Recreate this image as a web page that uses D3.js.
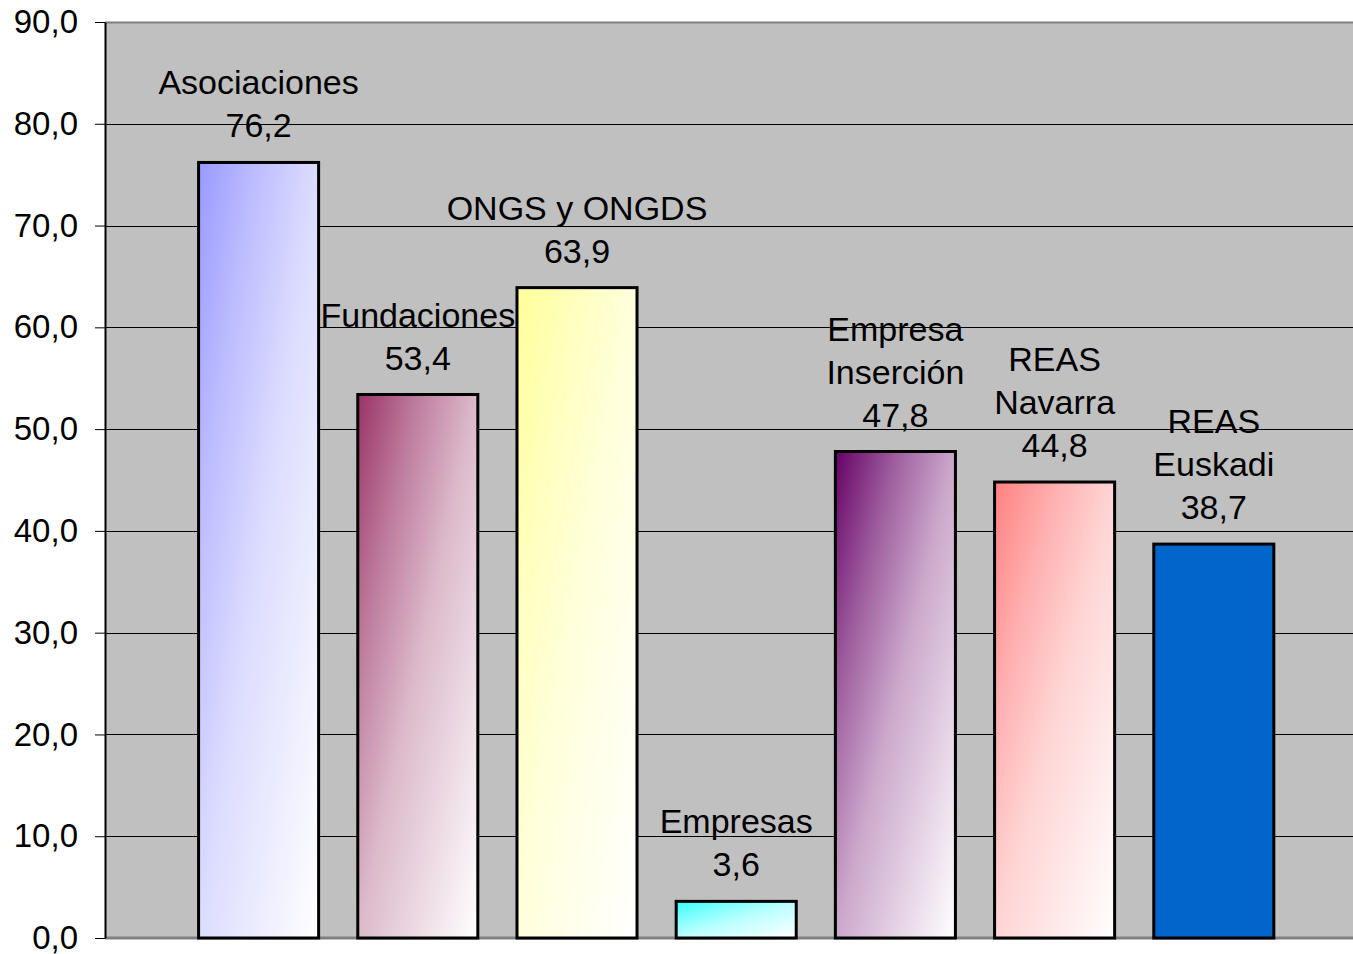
<!DOCTYPE html>
<html>
<head>
<meta charset="utf-8">
<script src="https://cdn.jsdelivr.net/npm/d3@7/dist/d3.min.js"></script>
<style>
  html, body { margin: 0; padding: 0; background: #ffffff; }
  svg { display: block; }
  text { font-family: "Liberation Sans", Arial, sans-serif; fill: #000; }
</style>
</head>
<body>
<svg id="chart" width="1353" height="954"></svg>
<script>
// Entity types and their values
const categories = ["Asociaciones", "Fundaciones", "ONGS y ONGDS", "Empresas", "Empresa Inserción", "REAS Navarra", "REAS Euskadi"];
const labelLines = [["Asociaciones"], ["Fundaciones"], ["ONGS y ONGDS"], ["Empresas"], ["Empresa", "Inserción"], ["REAS", "Navarra"], ["REAS", "Euskadi"]];
const values = [76.2, 53.4, 63.9, 3.6, 47.8, 44.8, 38.7];
const yTicks = [0, 10, 20, 30, 40, 50, 60, 70, 80, 90];
// Fill colour per bar (start of a fade to white; last bar is solid)
const barColors = ["#9999ff", "#993366", "#ffff99", "#33ffff", "#660066", "#ff8080", "#0066cc"];
const barFade = [true, true, true, true, true, true, false];

const svg = d3.select("#chart");
const plot = { left: 105, top: 22, right: 1362, bottom: 938 };

const locale = d3.formatLocale({ decimal: ",", thousands: ".", grouping: [3], currency: ["", "€"] });
const fmt = locale.format(".1f");

const y = d3.scaleLinear().domain([0, 90]).range([plot.bottom, plot.top]);
const x = d3.scaleBand()
  .domain(categories)
  .range([179, 179 + 7 * 159.2])
  .paddingInner(0.246)
  .paddingOuter(0.123);

// Gradients: colour at top-left fading to white at bottom-right
const defs = svg.append("defs");
categories.forEach((c, i) => {
  const g = defs.append("linearGradient")
    .attr("id", "grad" + i)
    .attr("x1", 0).attr("y1", 0).attr("x2", 1).attr("y2", 1);
  if (barFade[i]) {
    const toWhite = d3.interpolateRgb(barColors[i], "#ffffff");
    g.append("stop").attr("offset", 0).attr("stop-color", barColors[i]);
    g.append("stop").attr("offset", 0.25).attr("stop-color", toWhite(0.36));
    g.append("stop").attr("offset", 0.5).attr("stop-color", toWhite(0.66));
    g.append("stop").attr("offset", 1).attr("stop-color", "#ffffff");
  } else {
    g.append("stop").attr("offset", 0).attr("stop-color", barColors[i]);
    g.append("stop").attr("offset", 1).attr("stop-color", barColors[i]);
  }
});

// Plot area background
svg.append("rect")
  .attr("x", plot.left).attr("y", plot.top)
  .attr("width", plot.right - plot.left).attr("height", plot.bottom - plot.top)
  .attr("fill", "#c0c0c0");

// Horizontal gridlines
svg.append("g")
  .selectAll("line")
  .data(yTicks.filter(t => t > 0 && t < 90))
  .join("line")
  .attr("x1", plot.left).attr("x2", plot.right)
  .attr("y1", d => Math.round(y(d)) + 0.5).attr("y2", d => Math.round(y(d)) + 0.5)
  .attr("stroke", "#000").attr("stroke-width", 1);

// Plot area top and bottom borders
svg.append("line")
  .attr("x1", plot.left).attr("x2", plot.right)
  .attr("y1", plot.top + 0.5).attr("y2", plot.top + 0.5)
  .attr("stroke", "#808080").attr("stroke-width", 2);
svg.append("line")
  .attr("x1", plot.left).attr("x2", plot.right)
  .attr("y1", plot.bottom).attr("y2", plot.bottom)
  .attr("stroke", "#808080").attr("stroke-width", 3);

// Bars
svg.append("g")
  .selectAll("rect")
  .data(values)
  .join("rect")
  .attr("x", (d, i) => x(categories[i]))
  .attr("y", d => y(d))
  .attr("width", x.bandwidth())
  .attr("height", d => y(0) - y(d))
  .attr("fill", (d, i) => `url(#grad${i})`)
  .attr("stroke", "#000")
  .attr("stroke-width", 3);

// Y axis
const yAxis = d3.axisLeft(y)
  .tickValues(yTicks)
  .tickFormat(d => fmt(d))
  .tickSizeOuter(0)
  .tickSizeInner(10)
  .tickPadding(17);
const ya = svg.append("g")
  .attr("transform", `translate(${plot.left},0)`)
  .call(yAxis);
ya.select(".domain").attr("stroke", "#000").attr("stroke-width", 2);
ya.selectAll(".tick line").attr("stroke", "#000").attr("stroke-width", 1);
ya.selectAll(".tick text")
  .attr("font-size", 33)
  .attr("font-family", "'Liberation Sans', Arial, sans-serif")
  .attr("fill", "#000");

// Data labels: category name lines above the value
const lineH = 43;
const labels = svg.append("g")
  .selectAll("text")
  .data(values)
  .join("text")
  .attr("text-anchor", "middle")
  .attr("font-size", 34)
  .attr("x", (d, i) => x(categories[i]) + x.bandwidth() / 2)
  .attr("y", d => y(d) - 25);
labels.each(function (d, i) {
  const lines = labelLines[i].concat([fmt(d)]);
  const t = d3.select(this);
  const n = lines.length;
  lines.forEach((s, k) => {
    t.append("tspan")
      .attr("x", x(categories[i]) + x.bandwidth() / 2)
      .attr("y", y(d) - 25 - (n - 1 - k) * lineH)
      .text(s);
  });
});
</script>
</body>
</html>
